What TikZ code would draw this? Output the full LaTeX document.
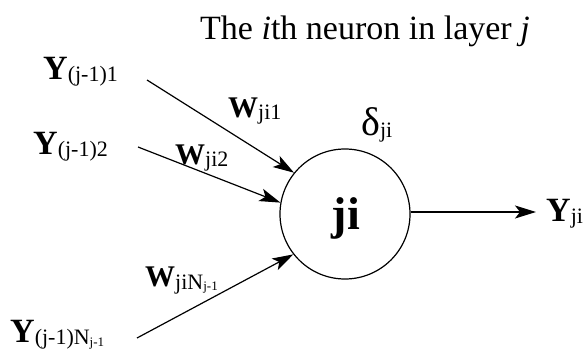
\documentclass[tikz,border=0pt]{standalone}
\usepackage{fontspec}
\setmainfont{Liberation Serif}
\usetikzlibrary{arrows.meta}
\newcommand{\sbig}{\fontsize{34}{34}\selectfont}
\newcommand{\ssub}[1]{\raisebox{-2pt}{\fontsize{22}{22}\selectfont #1}}
\newcommand{\sssub}[1]{\raisebox{-2pt}{\fontsize{13}{13}\selectfont #1}}
\tikzset{
  lbl/.style={inner sep=0pt, anchor=base west, font=\sbig},
  wl/.style={inner sep=0pt, anchor=base west, font=\fontsize{30}{30}\selectfont},
  arr/.style={line width=1.2pt, -{Stealth[length=21pt,width=13pt,inset=5pt]}},
  neuron/.style={circle, draw, line width=1.2pt, minimum size=130pt, inner sep=0pt}
}
\begin{document}
\begin{tikzpicture}[x=1pt,y=-1pt]
\useasboundingbox (0,0) rectangle (588,352);
\node[lbl] (title) at (200,40) {The \textit{i}th neuron in layer \textit{j}};
\node[neuron] (n) at (345,214) {};
\node[inner sep=0pt, anchor=base] (nl) at (346,230) {\fontsize{46}{46}\selectfont\bfseries ji};
\node[lbl] (d) at (361,136) {\fontsize{40}{40}\selectfont δ\ssub{ji}};
\node[lbl] (y1) at (43,80) {\textbf{Y}\ssub{(j-1)1}};
\node[lbl] (y2) at (33,155) {\textbf{Y}\ssub{(j-1)2}};
\node[lbl] (y3) at (10,342) {\textbf{Y}\ssub{(j-1)N\sssub{j-1}}};
\node[wl] (w1) at (228,118) {\textbf{W}\ssub{ji1}};
\node[wl] (w2) at (175,165) {\textbf{W}\ssub{ji2}};
\node[wl] (w3) at (145,287) {\textbf{W}\ssub{jiN\sssub{j-1}}};
\node[lbl] (yo) at (546,222) {\textbf{Y}\ssub{ji}};
\coordinate (s1) at (147,80);
\coordinate (s2) at (138,147);
\coordinate (s3) at (137,338);
\coordinate (e) at (536,212);
\draw[arr] (s1) -- (n.141);
\draw[arr] (s2) -- (n.170);
\draw[arr] (s3) -- (n.218);
\draw[arr] (n.east |- e) -- (e);
\end{tikzpicture}
\end{document}
